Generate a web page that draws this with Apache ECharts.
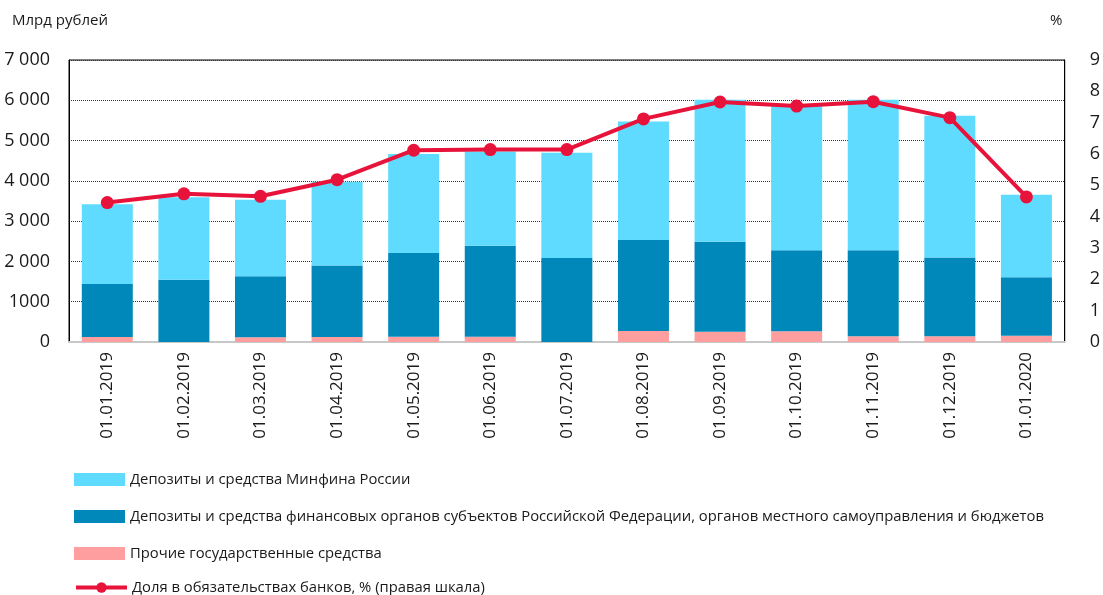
<!DOCTYPE html>
<html>
<head>
<meta charset="utf-8">
<script src="https://cdn.jsdelivr.net/npm/echarts@6/dist/echarts.min.js"></script>
<style>
  html, body { margin: 0; padding: 0; background: #fff; }
  #chart { width: 1103px; height: 595px; }
</style>
</head>
<body>
<div id="chart"></div>
<script>
// даты
const categories = ['01.01.2019', '01.02.2019', '01.03.2019', '01.04.2019', '01.05.2019', '01.06.2019',
  '01.07.2019', '01.08.2019', '01.09.2019', '01.10.2019', '01.11.2019', '01.12.2019', '01.01.2020']

// млрд рублей
const minfin = [1980, 2045, 1895, 2075, 2455, 2340, 2615, 2945, 3525, 3620, 3740, 3515, 2050]
const regions = [1315, 1545, 1515, 1775, 2080, 2260, 2085, 2255, 2235, 2010, 2135, 1960, 1450]
const other = [125, 0, 120, 125, 130, 130, 0, 275, 255, 265, 140, 140, 155]

// %
const share = [4.45, 4.73, 4.65, 5.18, 6.12, 6.14, 6.14, 7.12, 7.66, 7.53, 7.67, 7.16, 4.63]

const leftTicks = ['0', '1000', '2 000', '3 000', '4 000', '5 000', '6 000', '7 000']
const rightTicks = ['0', '1', '2', '3', '4', '5', '6', '7', '8', '9']

const names = [
  'Депозиты и средства Минфина России',
  'Депозиты и средства финансовых органов субъектов Российской Федерации, органов местного самоуправления и бюджетов',
  'Прочие государственные средства',
  'Доля в обязательствах банков, % (правая шкала)'
]

const mChart = echarts.init(document.getElementById('chart'))

const font = 'Open Sans, sans-serif'

const legendText = {
  fontFamily: 'Open Sans, sans-serif',
  fontSize: 14.8,
  color: '#1a1a1a'
}

const options = {
  animation: false,
  grid: {
    left: 69,
    right: 36,
    top: 60,
    bottom: 253,
    show: true,
    borderColor: '#000',
    borderWidth: 1
  },
  legend: [
    {
      orient: 'vertical',
      left: 69,
      top: 467,
      height: 120,
      itemWidth: 51,
      itemHeight: 13,
      itemGap: 22,
      icon: 'rect',
      data: [names[0], names[1], names[2]],
      textStyle: legendText
    },
    {
      orient: 'vertical',
      left: 69,
      top: 575,
      itemWidth: 51,
      itemHeight: 13,
      data: [names[3]],
      lineStyle: { width: 4 },
      textStyle: legendText
    }
  ],
  xAxis: {
    type: 'category',
    data: categories,
    axisLine: { lineStyle: { color: '#c8c8c8', width: 2 } },
    axisTick: { show: false },
    axisLabel: {
      rotate: 90,
      margin: 10,
      color: '#1a1a1a',
      fontFamily: font,
      fontSize: 17
    }
  },
  yAxis: [
    {
      type: 'value',
      min: 0,
      max: 7000,
      interval: 1000,
      axisLine: { show: true, lineStyle: { color: '#000' } },
      axisTick: { show: false },
      splitLine: { lineStyle: { color: '#333', type: [1, 1] } },
      axisLabel: {
        color: '#1a1a1a',
        fontFamily: font,
        fontSize: 18,
        margin: 19,
        formatter: (v) => leftTicks[Math.round(v / 1000)]
      }
    },
    {
      type: 'value',
      min: 0,
      max: 9,
      interval: 1,
      axisLine: { show: true, lineStyle: { color: '#000' } },
      axisTick: { show: false },
      splitLine: { show: false },
      axisLabel: {
        color: '#1a1a1a',
        fontFamily: font,
        fontSize: 18,
        margin: 25,
        formatter: (v) => rightTicks[Math.round(v)]
      }
    }
  ],
  graphic: [
    {
      type: 'text', left: 12, top: 13,
      style: { text: 'Млрд рублей', fontFamily: font, fontSize: 15, fill: '#1a1a1a' }
    },
    {
      type: 'text', left: 1050, top: 13,
      style: { text: '%', fontFamily: font, fontSize: 15, fill: '#1a1a1a' }
    }
  ],
  series: [
    {
      name: names[2],
      type: 'bar',
      stack: 'total',
      barWidth: 51,
      data: other,
      itemStyle: { color: '#FF9E9E' }
    },
    {
      name: names[1],
      type: 'bar',
      stack: 'total',
      barWidth: 51,
      data: regions,
      itemStyle: { color: '#0088BA' }
    },
    {
      name: names[0],
      type: 'bar',
      stack: 'total',
      barWidth: 51,
      data: minfin,
      itemStyle: { color: '#5EDBFE' }
    },
    {
      name: names[3],
      type: 'line',
      yAxisIndex: 1,
      data: share,
      symbol: 'circle',
      symbolSize: 13,
      lineStyle: { color: '#E8133A', width: 4 },
      itemStyle: { color: '#E8133A' },
      z: 5
    }
  ]
}

mChart.setOption(options)
</script>
</body>
</html>
